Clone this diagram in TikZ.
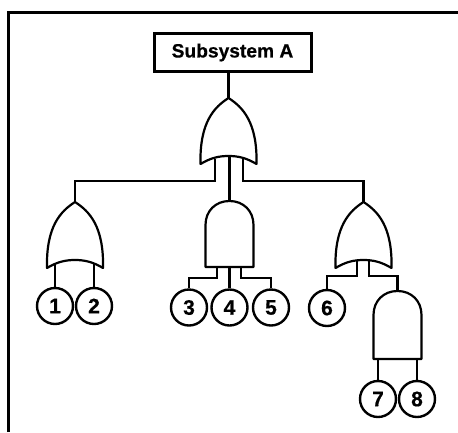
\documentclass[tikz,border=0pt]{standalone}
\usepackage{fontspec}
\setmainfont{Liberation Sans}
\newfontfamily\labelfont[FakeBold=0.6]{Liberation Sans Bold}
\tikzset{
  framepen/.style={line width=2.8pt},
  gatepen/.style={line width=2.2pt,line join=round,fill=white},
  link/.style={line width=2.8pt,line join=miter},
  thinlink/.style={line width=2.2pt},
  titlebox/.style={draw,line width=3pt,minimum width=157pt,minimum height=38pt,inner sep=0pt,font=\labelfont\fontsize{19.2}{21}\selectfont},
  event/.style={circle,draw,line width=2.4pt,minimum size=36pt,inner sep=0pt,font=\labelfont\fontsize{21}{23}\selectfont}
}
% OR gate: name, apex x, apex y
\newcommand{\orgate}[3]{
  \coordinate (#1) at (#2,#3);
  \coordinate (#1m) at (#2,#3+58);
  \draw[gatepen] (#2,#3)
    .. controls (#2-14,#3+9) and (#2-29,#3+24) .. (#2-28,#3+66)
    .. controls (#2-18,#3+60) and (#2-10,#3+58) .. (#2,#3+58)
    .. controls (#2+10,#3+58) and (#2+18,#3+60) .. (#2+28,#3+66)
    .. controls (#2+29,#3+24) and (#2+14,#3+9) .. cycle;
}
% AND gate: name, apex x, apex y, height
\newcommand{\andgate}[4]{
  \coordinate (#1) at (#2,#3);
  \coordinate (#1b) at (#2,#3+#4);
  \draw[gatepen] (#2,#3)
    .. controls (#2-14,#3) and (#2-24,#3+10) .. (#2-24,#3+24)
    -- (#2-24,#3+#4) -- (#2+24,#3+#4) -- (#2+24,#3+24)
    .. controls (#2+24,#3+10) and (#2+14,#3) .. cycle;
}
\begin{document}
\begin{tikzpicture}[x=1pt,y=-1pt]
\useasboundingbox (0,0) rectangle (458,432);
\coordinate (fa) at (8.5,432);
\coordinate (fb) at (8.5,12.5);
\coordinate (fc) at (458,12.5);
\draw[framepen] (fa) -- (fb) -- (fc);

\node[titlebox] (top) at (232.5,52.5) {Subsystem A};

\orgate{g0}{228.5}{98}
\orgate{g1}{75}{202}
\andgate{g2}{229.5}{201}{66}
\orgate{g3}{363.5}{202}
\andgate{g4}{397.5}{291}{68}

\node[event] (e1) at (55,306) {1};
\node[event] (e2) at (94,306) {2};
\node[event] (e3) at (189,307.5) {3};
\node[event] (e4) at (229.5,307.5) {4};
\node[event] (e5) at (271,307.5) {5};
\node[event] (e6) at (327,308) {6};
\node[event] (e7) at (378,399) {7};
\node[event] (e8) at (417,399) {8};

% top level
\draw[link] (top.south -| g0) -- (g0);
\draw[link] (215,159) coordinate (a0) |- (g1 |- 0,181) -- (g1);
\draw[thinlink] (g0m -| g2) -- (g2);
\draw[link] (243,159) coordinate (a1) |- (g3 |- 0,181) -- (g3);
% gate 1
\draw[link] (e1.north) -- (e1.north |- 0,264);
\draw[link] (e2.north) -- (e2.north |- 0,264);
% gate 2
\draw[link] (217,267) coordinate (b0) |- (e3.north |- 0,278) -- (e3.north);
\draw[thinlink] (g2b) -- (e4.north);
\draw[link] (241,267) coordinate (b1) |- (e5.north |- 0,278) -- (e5.north);
% gate 3
\draw[link] (357,261) coordinate (c0) |- (e6.north |- 0,276) -- (e6.north);
\draw[link] (369,261) coordinate (c1) |- (g4 |- 0,276) -- (g4);
% gate 4
\draw[link] (e7.north) -- (e7.north |- g4b);
\draw[link] (e8.north) -- (e8.north |- g4b);
\end{tikzpicture}
\end{document}
